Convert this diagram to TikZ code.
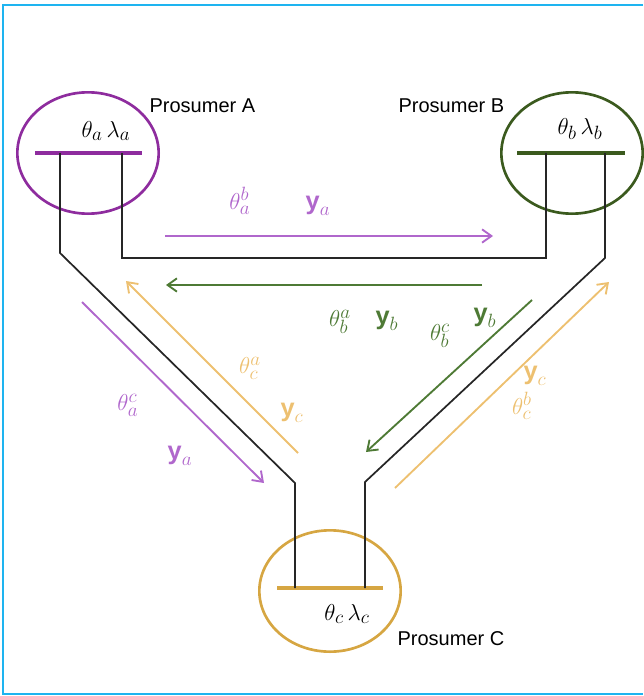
\documentclass[tikz,border=0pt]{standalone}
\usepackage{fontspec}
\setmainfont{Liberation Sans}
\setsansfont{Liberation Sans}
\usetikzlibrary{arrows.meta,shapes.geometric}
\definecolor{frameblue}{HTML}{1EB4F0}
\definecolor{pA}{HTML}{8E2C9E}
\definecolor{pAl}{HTML}{B067CC}
\definecolor{gB}{HTML}{3B5A1E}
\definecolor{gBl}{HTML}{4E7A35}
\definecolor{oC}{HTML}{D6A642}
\definecolor{oCl}{HTML}{EDC070}
\tikzset{
  pros/.style={ellipse,draw,line width=2pt,minimum width=106pt,minimum height=91pt,inner sep=0pt},
  bar/.style={line width=2.4pt},
  wire/.style={line width=1.3pt,black!85},
  flow/.style={line width=1.4pt,-{Straight Barb[length=7pt,width=10pt,line width=1.4pt]}},
  plabel/.style={font=\fontsize{15}{18}\selectfont,inner sep=1pt},
  mlabel/.style={font=\fontsize{19}{22}\selectfont,inner sep=0pt}
}
\newcommand{\yv}[1]{\textsf{\textbf{y}}_{#1}}
\begin{document}
\begin{tikzpicture}[x=0.75pt,y=-0.75pt]
\useasboundingbox (0,0) rectangle (643,696);
% frame
\draw[frameblue,line width=2pt] (643,5) -- (3,5) -- (3,694) -- (643,694);
% prosumers
\node[pros,draw=pA] (A) at (88,153) {};
\node[pros,draw=gB] (B) at (572,153) {};
\node[pros,draw=oC] (C) at (330,591) {};
% bars
\coordinate (a1) at (35,153); \coordinate (a2) at (142,153);
\coordinate (b1) at (517,153); \coordinate (b2) at (625,153);
\coordinate (c1) at (277,588); \coordinate (c2) at (383,588);
\draw[bar,pA] (a1) -- (a2);
\draw[bar,gB] (b1) -- (b2);
\draw[bar,oC] (c1) -- (c2);
% wires
\coordinate (wa1) at (60,153); \coordinate (wa2) at (122,153);
\coordinate (wb1) at (546,153); \coordinate (wb2) at (605,153);
\coordinate (wc1) at (295,588); \coordinate (wc2) at (365,588);
\draw[wire] (wa1) -- (60,253) -- (295,483) -- (wc1);
\draw[wire] (wa2) -- (122,258) -- (546,258) -- (wb1);
\draw[wire] (wb2) -- (605,258) -- (365,482) -- (wc2);
% labels on prosumers
\node[mlabel] (tA) at (106,131) {$\theta_a\,\lambda_a$};
\node[mlabel] (tB) at (580,129) {$\theta_b\,\lambda_b$};
\node[mlabel] (tC) at (347,614) {$\theta_c\,\lambda_c$};
\node[plabel,anchor=base west] (nA) at (148,112) {Prosumer A};
\node[plabel,anchor=base west] (nB) at (397,112) {Prosumer B};
\node[plabel,anchor=base west] (nC) at (396,645) {Prosumer C};
% flow coordinates
\coordinate (f1s) at (165,236); \coordinate (f1e) at (493,236);
\coordinate (f2s) at (482,285); \coordinate (f2e) at (166,285);
\coordinate (f3s) at (532,300); \coordinate (f3e) at (366,452);
\coordinate (f4s) at (395,488); \coordinate (f4e) at (609,282);
\coordinate (f5s) at (298,453); \coordinate (f5e) at (126,281);
\coordinate (f6s) at (82,302);  \coordinate (f6e) at (264,483);
\draw[flow,pAl] (f1s) -- (f1e);
\draw[flow,gBl] (f2s) -- (f2e);
\draw[flow,gBl] (f3s) -- (f3e);
\draw[flow,oCl] (f4s) -- (f4e);
\draw[flow,oCl] (f5s) -- (f5e);
\draw[flow,pAl] (f6s) -- (f6e);
% flow labels
\node[mlabel,text=pAl] (l1a) at (240,201) {$\theta_a^b$};
\node[mlabel,text=pAl] (l1b) at (318,206) {$\yv{a}$};
\node[mlabel,text=gBl] (l2a) at (340,322) {$\theta_b^a$};
\node[mlabel,text=gBl] (l2b) at (387,321) {$\yv{b}$};
\node[mlabel,text=gBl] (l3a) at (440,336) {$\theta_b^c$};
\node[mlabel,text=gBl] (l3b) at (485,318) {$\yv{b}$};
\node[mlabel,text=oCl] (l4a) at (535,376) {$\yv{c}$};
\node[mlabel,text=oCl] (l4b) at (522,406) {$\theta_c^b$};
\node[mlabel,text=oCl] (l5a) at (250,368) {$\theta_c^a$};
\node[mlabel,text=oCl] (l5b) at (292,413) {$\yv{c}$};
\node[mlabel,text=pAl] (l6a) at (128,405) {$\theta_a^c$};
\node[mlabel,text=pAl] (l6b) at (180,456) {$\yv{a}$};
\end{tikzpicture}
\end{document}
